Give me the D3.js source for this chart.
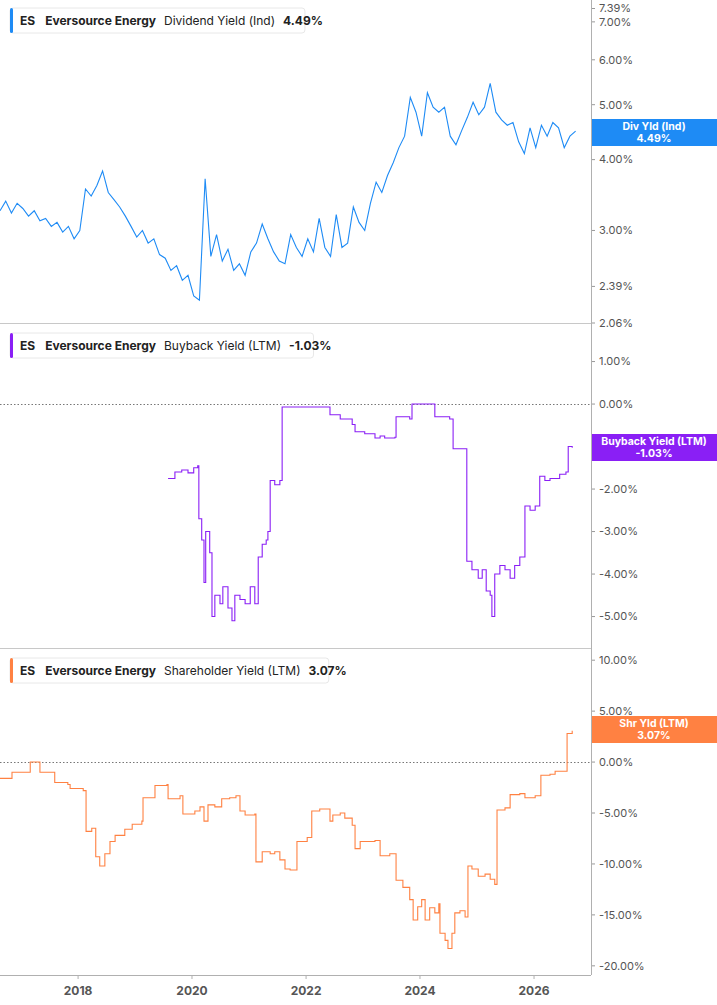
<!DOCTYPE html>
<html>
<head>
<meta charset="utf-8">
<script src="https://cdn.jsdelivr.net/npm/d3@7"></script>
<style>
  body { margin: 0; background: #fff; font-family: Inter, 'Noto Sans', sans-serif; }
</style>
</head>
<body>
<div id="chart"></div>
<script>
// Dividend yield (Ind), % — sampled every 0.1 year from 2016.63
const divStart = 2016.63
const divValues = [3.25, 3.38, 3.22, 3.35, 3.28, 3.18, 3.25, 3.12, 3.15, 3.05, 3.1, 2.98, 3.05, 2.9, 3.0,
  3.55, 3.45, 3.6, 3.82, 3.5, 3.4, 3.3, 3.18, 3.05, 2.92, 3.0, 2.85, 2.9, 2.72, 2.68, 2.55, 2.6, 2.45,
  2.5, 2.3, 2.26, 3.7, 2.7, 2.95, 2.65, 2.78, 2.55, 2.62, 2.5, 2.75, 2.85, 3.08, 2.9, 2.75, 2.65, 2.62,
  2.95, 2.8, 2.7, 2.9, 2.75, 3.15, 2.8, 2.7, 3.2, 2.8, 2.85, 3.3, 3.1, 3.0, 3.35, 3.65, 3.5, 3.75, 3.95,
  4.2, 4.4, 5.15, 4.85, 4.4, 5.25, 4.95, 4.85, 4.95, 4.4, 4.25, 4.5, 4.75, 5.05, 4.8, 4.95, 5.45, 4.85,
  4.7, 4.6, 4.65, 4.3, 4.1, 4.55, 4.2, 4.6, 4.4, 4.65, 4.55, 4.2, 4.4, 4.49]

// Buyback yield (LTM), %
const bbYears = [2019.58, 2019.70, 2019.82, 2019.93, 2020.03, 2020.10, 2020.12, 2020.17, 2020.21, 2020.24,
  2020.31, 2020.35, 2020.40, 2020.49, 2020.54, 2020.63, 2020.70, 2020.75, 2020.84, 2020.93, 2021.02,
  2021.10, 2021.16, 2021.23, 2021.30, 2021.33, 2021.37, 2021.45, 2021.54, 2021.58, 2021.89, 2022.12,
  2022.42, 2022.60, 2022.81, 2022.86, 2023.03, 2023.21, 2023.30, 2023.38, 2023.56, 2023.58, 2023.82,
  2023.86, 2024.09, 2024.26, 2024.52, 2024.58, 2024.79, 2024.82, 2024.91, 2025.02, 2025.09, 2025.16,
  2025.23, 2025.26, 2025.31, 2025.40, 2025.49, 2025.58, 2025.66, 2025.75, 2025.84, 2025.93, 2026.02,
  2026.10, 2026.19, 2026.28, 2026.45, 2026.56, 2026.60, 2026.67]
const bbValues = [-1.75, -1.6, -1.55, -1.62, -1.5, -1.45, -2.7, -3.2, -4.2, -3.0,
  -3.5, -5.0, -4.5, -4.7, -4.3, -4.8, -5.1, -4.5, -4.6, -4.7, -4.3,
  -4.7, -3.6, -3.3, -3.2, -3.0, -1.8, -1.9, -1.8, -0.07, -0.07, -0.07,
  -0.25, -0.35, -0.48, -0.65, -0.7, -0.8, -0.75, -0.8, -0.78, -0.3, -0.35,
  0.0, 0.0, -0.3, -0.35, -1.05, -1.05, -3.7, -3.9, -4.1, -3.9, -4.4,
  -4.5, -5.0, -4.0, -3.8, -3.9, -4.1, -3.8, -3.6, -2.4, -2.5, -2.4,
  -1.7, -1.8, -1.75, -1.65, -1.6, -1.0, -1.03]

// Shareholder yield (LTM), %
const shYears = [2016.63, 2016.81, 2016.84, 2017.12, 2017.16, 2017.30, 2017.33, 2017.56, 2017.59, 2017.82,
  2017.86, 2018.09, 2018.14, 2018.24, 2018.31, 2018.38, 2018.47, 2018.56, 2018.65, 2018.82, 2018.95,
  2019.12, 2019.14, 2019.31, 2019.35, 2019.56, 2019.58, 2019.79, 2019.84, 2020.05, 2020.14, 2020.21,
  2020.28, 2020.40, 2020.52, 2020.66, 2020.77, 2020.84, 2020.93, 2021.10, 2021.12, 2021.23, 2021.37,
  2021.45, 2021.54, 2021.63, 2021.72, 2021.84, 2022.02, 2022.10, 2022.24, 2022.42, 2022.47, 2022.60,
  2022.68, 2022.81, 2022.86, 2022.95, 2023.21, 2023.30, 2023.47, 2023.58, 2023.70, 2023.82, 2023.88,
  2023.96, 2024.03, 2024.09, 2024.17, 2024.26, 2024.33, 2024.35, 2024.44, 2024.49, 2024.56, 2024.61,
  2024.70, 2024.79, 2024.84, 2024.91, 2025.02, 2025.14, 2025.23, 2025.31, 2025.35, 2025.49, 2025.58,
  2025.75, 2025.84, 2026.02, 2026.12, 2026.28, 2026.37, 2026.54, 2026.58, 2026.67]
const shValues = [-1.6, -1.6, -1.0, -1.0, 0.0, 0.0, -1.0, -1.0, -2.0, -2.2,
  -2.6, -2.8, -6.8, -6.5, -9.3, -10.2, -9.0, -7.8, -7.2, -6.6, -6.1,
  -5.8, -3.5, -3.5, -2.3, -2.2, -3.6, -3.3, -5.1, -4.8, -4.4, -5.8,
  -4.2, -4.4, -3.6, -3.5, -3.3, -4.8, -5.2, -5.1, -9.8, -8.8, -9.0,
  -8.8, -9.6, -10.5, -10.6, -7.8, -7.4, -4.8, -4.6, -5.8, -5.2, -5.0,
  -5.5, -6.2, -8.5, -7.8, -7.7, -9.2, -9.0, -11.6, -12.3, -13.5, -15.5,
  -14.2, -13.5, -15.5, -14.3, -14.8, -13.9, -16.8, -17.5, -18.3, -16.8, -14.8,
  -14.6, -15.2, -10.2, -10.5, -11.2, -11.0, -11.5, -12.0, -4.7, -4.5, -3.2,
  -3.1, -3.5, -3.3, -1.3, -1.2, -0.9, -0.9, 2.8, 3.07]

const divTicks = [2.06, 2.39, 3, 4, 5, 6, 7, 7.39]
const bbTicks = [1, 0, -2, -3, -4, -5]
const shTicks = [10, 5, 0, -5, -10, -15, -20]
const yearTicks = [2018, 2020, 2022, 2024, 2026]

const W = 717
const H = 1005
const plotRight = 591

const toDate = y => {
  const yr = Math.floor(y)
  const a = new Date(yr, 0, 1)
  const b = new Date(yr + 1, 0, 1)
  return new Date(+a + (y - yr) * (b - a))
}

const svg = d3.select('#chart').append('svg')
  .attr('width', W)
  .attr('height', H)

const x = d3.scaleTime()
  .domain([toDate(2016.63), toDate(2027.0)])
  .range([0, plotRight])

const panels = [
  {
    top: 0, bottom: 323,
    y: d3.scaleLog().domain([2.06, 7.65]).range([323, 0]),
    data: divValues.map((v, i) => ({ d: toDate(divStart + i * 0.1), v })),
    ticks: divTicks, fmt: d => d.toFixed(2) + '%',
    color: '#1e8bf5', curve: d3.curveLinear, zero: false,
    metric: 'Dividend Yield (Ind)', value: '4.49%',
    tag: ['Div Yld (Ind)', '4.49%'], tagY: 119
  },
  {
    top: 325, bottom: 648,
    y: d3.scaleLinear().domain([-5.74, 1.86]).range([648, 325]),
    data: bbYears.map((t, i) => ({ d: toDate(t), v: bbValues[i] })),
    ticks: bbTicks, fmt: d => d.toFixed(2) + '%',
    color: '#8a1ff5', curve: d3.curveStepAfter, zero: true,
    metric: 'Buyback Yield (LTM)', value: '-1.03%',
    tag: ['Buyback Yield (LTM)', '-1.03%'], tagY: 434
  },
  {
    top: 650, bottom: 975,
    y: d3.scaleLinear().domain([-20.9, 11]).range([975, 650]),
    data: shYears.map((t, i) => ({ d: toDate(t), v: shValues[i] })),
    ticks: shTicks, fmt: d => d.toFixed(2) + '%',
    color: '#ff8142', curve: d3.curveStepAfter, zero: true,
    metric: 'Shareholder Yield (LTM)', value: '3.07%',
    tag: ['Shr Yld (LTM)', '3.07%'], tagY: 716
  }
]

panels.forEach((p, idx) => {
  const g = svg.append('g')

  // separator under each panel
  if (idx < 2) {
    g.append('line')
      .attr('x1', 0).attr('x2', plotRight)
      .attr('y1', p.bottom + 0.5).attr('y2', p.bottom + 0.5)
      .attr('stroke', '#c8c8c8')
  }

  if (p.zero) {
    g.append('line')
      .attr('x1', 0).attr('x2', plotRight)
      .attr('y1', Math.round(p.y(0)) + 0.5).attr('y2', Math.round(p.y(0)) + 0.5)
      .attr('stroke', '#777')
      .attr('stroke-dasharray', '1.5,2')
  }

  g.append('defs').append('clipPath').attr('id', 'clip' + idx)
    .append('rect').attr('x', 0).attr('y', p.top).attr('width', plotRight).attr('height', p.bottom - p.top)

  g.append('path')
    .datum(p.data)
    .attr('clip-path', `url(#clip${idx})`)
    .attr('fill', 'none')
    .attr('stroke', p.color)
    .attr('stroke-width', 1.1)
    .attr('d', d3.line().curve(p.curve).x(d => x(d.d)).y(d => p.y(d.v)))

  // right axis labels
  const ax = g.append('g')
    .selectAll('g')
    .data(p.ticks)
    .join('g')
    .attr('transform', d => `translate(${plotRight},${p.y(d)})`)
  ax.append('line').attr('x1', 1).attr('x2', 4).attr('stroke', '#999')
  ax.append('text')
    .attr('x', 8).attr('dy', '0.35em')
    .attr('fill', '#555').style('font-size', '11px')
    .text(p.fmt)

  // value tag
  const tag = g.append('g').attr('transform', `translate(${plotRight},${p.tagY})`)
  tag.append('rect').attr('width', W - plotRight).attr('height', 27).attr('fill', p.color)
  tag.selectAll('text').data(p.tag).join('text')
    .attr('x', (W - plotRight) / 2).attr('y', (d, i) => 11 + i * 12)
    .attr('text-anchor', 'middle').attr('fill', '#fff')
    .style('font-size', '10.5px').style('font-weight', 'bold')
    .text(d => d)

  // legend
  const lg = g.append('g').attr('transform', `translate(10,${p.top + 8})`)
  const box = lg.append('rect').attr('height', 25).attr('rx', 3)
    .attr('fill', '#fff').attr('stroke', '#e8e8e8')
  lg.append('rect').attr('width', 3).attr('height', 25).attr('rx', 1.5).attr('fill', p.color)
  const txt = lg.append('text').attr('x', 10).attr('y', 17)
    .attr('fill', '#222').style('font-size', '12px')
  txt.append('tspan').style('font-weight', 'bold').text('ES')
  txt.append('tspan').attr('dx', 10).style('font-weight', 'bold').text('Eversource Energy')
  txt.append('tspan').attr('dx', 8).text(p.metric)
  txt.append('tspan').attr('dx', 8).style('font-weight', 'bold').text(p.value)
  box.attr('width', txt.node().getComputedTextLength() + 18)
})

// right axis line
svg.append('line')
  .attr('x1', plotRight + 0.5).attr('x2', plotRight + 0.5)
  .attr('y1', 0).attr('y2', 975)
  .attr('stroke', '#b0b0b0')

// x axis
svg.append('line')
  .attr('x1', 0).attr('x2', plotRight)
  .attr('y1', 975.5).attr('y2', 975.5)
  .attr('stroke', '#b0b0b0')
const xt = svg.append('g').selectAll('g')
  .data(yearTicks)
  .join('g')
  .attr('transform', d => `translate(${x(new Date(d, 0, 1))},975)`)
xt.append('line').attr('y1', 0).attr('y2', 4).attr('stroke', '#b0b0b0')
xt.append('text')
  .attr('y', 20).attr('text-anchor', 'middle')
  .attr('fill', '#555').style('font-size', '12px').style('font-weight', 'bold')
  .text(d => d)
</script>
</body>
</html>
